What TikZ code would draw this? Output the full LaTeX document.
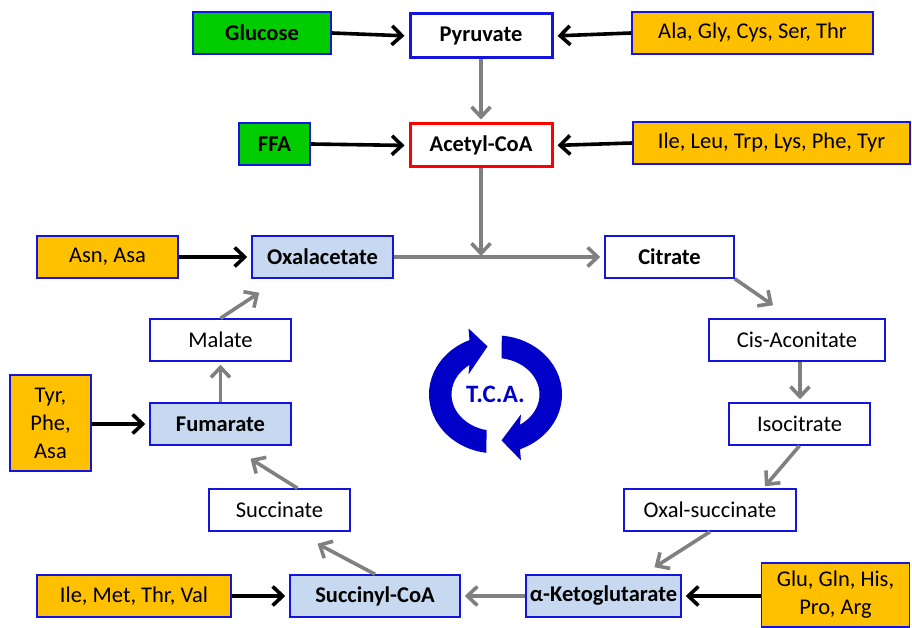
\documentclass[tikz,border=0pt]{standalone}
\usepackage{fontspec}
\setmainfont{Carlito}
\usetikzlibrary{arrows.meta,calc}
\definecolor{grn}{RGB}{0,204,0}
\definecolor{org}{RGB}{255,192,0}
\definecolor{lblue}{RGB}{198,217,241}
\definecolor{bblue}{RGB}{20,20,225}
\definecolor{tcab}{RGB}{0,0,200}
\definecolor{arrgray}{RGB}{128,128,128}
\begin{document}
\begin{tikzpicture}[x=1pt,y=1pt,
  font=\fontsize{22.5}{28}\selectfont,
  bx/.style 2 args={draw=bblue, line width=1.5pt, inner sep=0pt, minimum width=#1, minimum height=#2, align=center},
  bld/.style={font=\fontsize{22.5}{28}\selectfont\bfseries},
  srcg/.style={fill=grn, bld},
  srco/.style={fill=org},
  main/.style={fill=lblue, bld},
  plain/.style={fill=white},
  blk/.style={draw=black, line width=3.6pt, -{Straight Barb[length=10pt,width=19pt,line width=3.6pt]}, shorten >=4pt},
  gry/.style={draw=arrgray, line width=3.6pt, -{Straight Barb[length=10pt,width=19pt,line width=3.6pt]}},
  tcafill/.style={fill=tcab, draw=none}
]
\useasboundingbox (0,0) rectangle (912,628);
% top
\node[bx={138pt}{42pt}, srcg] (glucose) at (262,595) {Glucose};
\node[bx={142pt}{44pt}, line width=3pt, fill=white, bld] (pyruvate) at (481,592) {Pyruvate};
\node[bx={241pt}{42pt}, srco] (ala) at (752.5,595) {Ala, Gly, Cys, Ser, Thr};
\node[bx={71pt}{42pt}, srcg] (ffa) at (274.5,484) {FFA};
\node[bx={142pt}{43pt}, draw=red, line width=3pt, fill=white, bld] (acetyl) at (481,482.5) {Acetyl-CoA};
\node[bx={277pt}{42pt}, srco] (ileleu) at (771.5,485) {Ile, Leu, Trp, Lys, Phe, Tyr};
% cycle
\node[bx={141pt}{42pt}, srco] (asn) at (107.5,371) {Asn, Asa};
\node[bx={141pt}{42pt}, main] (oxal) at (322.5,371) {Oxalacetate};
\node[bx={129pt}{42pt}, plain, bld] (citrate) at (669.5,371) {Citrate};
\node[bx={141pt}{42pt}, plain] (malate) at (220.5,288) {Malate};
\node[bx={176pt}{42pt}, plain] (cis) at (797,288) {Cis-Aconitate};
\node[bx={81pt}{96pt}, srco] (tyr) at (50.5,205) {Tyr,\\Phe,\\Asa};
\node[bx={141pt}{42pt}, main] (fumarate) at (220.5,204) {Fumarate};
\node[bx={141pt}{42pt}, plain] (isocitrate) at (799.5,204) {Isocitrate};
\node[bx={141pt}{42pt}, plain] (succinate) at (279.5,118) {Succinate};
\node[bx={172pt}{42pt}, plain] (oxalsucc) at (710,118) {Oxal-succinate};
\node[bx={194pt}{42pt}, srco] (ilemet) at (134,32) {Ile, Met, Thr, Val};
\node[bx={170pt}{42pt}, main] (succoa) at (375,32) {Succinyl-CoA};
\node[bx={155pt}{42pt}, main] (aketo) at (603.5,32) {α-Ketoglutarate};
\node[bx={148pt}{64pt}, srco] (glu) at (835.5,33) {Glu, Gln, His,\\Pro, Arg};
% TCA symbol
\coordinate (tcac) at (495.5,233.6);
\node[text=tcab, font=\fontsize{25}{28}\selectfont\bfseries] (tca) at (tcac) {T.C.A.};
\fill[tcafill] ($(tcac)+(258.2:44 and 36.5)$) -- ($(tcac)+(262.2:66.5 and 59)$)
  arc[start angle=262.2, end angle=113, x radius=66.5, y radius=59]
  -- ($(tcac)+(-27,66)$) -- ($(tcac)+(-8,48)$) -- ($(tcac)+(-27,20)$)
  -- ($(tcac)+(126.2:44 and 36.5)$)
  arc[start angle=126.2, end angle=258.2, x radius=44, y radius=36.5] -- cycle;
\fill[tcafill] ($(tcac)+(81.9:44 and 36.5)$) -- ($(tcac)+(84.6:66.5 and 59)$)
  arc[start angle=84.6, end angle=-68.4, x radius=66.5, y radius=59]
  -- ($(tcac)+(25.5,-66)$) -- ($(tcac)+(6,-46)$) -- ($(tcac)+(25.5,-20)$)
  -- ($(tcac)+(-56.2:44 and 36.5)$)
  arc[start angle=-56.2, end angle=81.9, x radius=44, y radius=36.5] -- cycle;
% black arrows
\draw[blk] (glucose.east) -- (pyruvate.west);
\draw[blk] (ala.west) -- (pyruvate.east);
\draw[blk] (ffa.east) -- (acetyl.west);
\draw[blk] (ileleu.west) -- (acetyl.east);
\draw[blk] (asn.east) -- (oxal.west);
\draw[blk] (tyr.east |- fumarate.west) -- (fumarate.west);
\draw[blk] (ilemet.east) -- (succoa.west);
\draw[blk] (glu.west |- aketo.east) -- (aketo.east);
% gray arrows
\coordinate (junc) at (acetyl.south |- oxal.east);
\draw[gry, shorten >=3pt] (pyruvate.south) -- (acetyl.north);
\draw[gry, shorten >=1pt] (acetyl.south) -- (junc);
\draw[draw=arrgray, line width=3.6pt] (oxal.east) -- (junc);
\draw[gry, shorten >=4pt] (junc) -- (citrate.west);
\draw[gry] (citrate.south east) -- ([shift={(-24,13)}]cis.north);
\draw[gry, shorten >=3pt] ([xshift=3]cis.south) -- ([xshift=3]cis.south |- isocitrate.north);
\draw[gry] (isocitrate.south) -- ([shift={(55,2)}]oxalsucc.north);
\draw[gry] (oxalsucc.south) -- ([shift={(51,7)}]aketo.north);
\draw[gry, shorten >=4pt] (aketo.west) -- (succoa.east);
\draw[gry] (succoa.north) -- ([shift={(38,-12)}]succinate.south);
\draw[gry] ([xshift=18]succinate.north) -- ([shift={(30,-13)}]fumarate.south);
\draw[gry, shorten >=3pt] (fumarate.north) -- (malate.south);
\draw[gry] (malate.north) -- ([shift={(8,-14)}]oxal.south west);
\end{tikzpicture}
\end{document}
